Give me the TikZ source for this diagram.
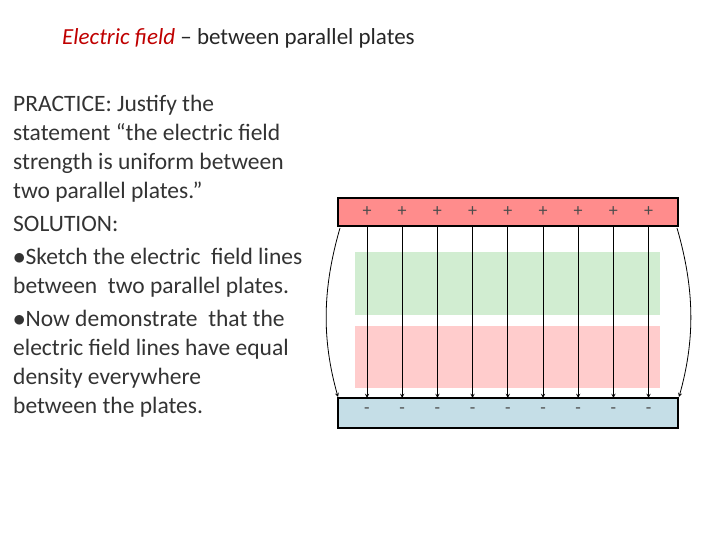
\documentclass[tikz,border=0pt]{standalone}
\usepackage{fontspec}
\setmainfont{Carlito}
\begin{document}
\begin{tikzpicture}[x=1pt,y=-1pt,
  body/.style={anchor=north west,align=left,font=\fontsize{23.5}{29}\selectfont,text=black!80,inner sep=0},
  fl/.style={-stealth,line width=0.9pt},
  sgn/.style={font=\fontsize{18}{18}\selectfont,text=black!70}]
\useasboundingbox (0,0) rectangle (720,540);
\node[anchor=west,font=\fontsize{23}{26}\selectfont,inner sep=0,text=black!85] (title) at (62,38) {\textcolor{red!75!black}{\textit{Electric field}} -- between parallel plates};
\node[body] (txt) at (13,95) {PRACTICE: Justify the\\statement “the electric field\\strength is uniform between\\two parallel plates.”\\[4pt]SOLUTION:\\[4pt]$\bullet$Sketch the electric\ \ field lines\\between\ \ two parallel plates.\\[4pt]$\bullet$Now demonstrate\ \ that the\\electric field lines have equal\\density everywhere\\between the plates.};
\fill[green!45!gray!25] (355,252) rectangle (660,315);
\fill[red!20] (355,326) rectangle (660,388);
\draw[line width=2pt,fill=red!45] (338,198) rectangle (678,226);
\draw[line width=2pt,fill=cyan!45!gray!35] (338,398) rectangle (678,428);
\foreach \i in {0,...,8}{
  \pgfmathsetmacro\xx{367+35.2*\i}
  \node[sgn] (p\i) at (\xx,212) {+};
  \node[sgn] (m\i) at (\xx,411) {-};
  \coordinate (a\i) at (\xx,226);
  \coordinate (b\i) at (\xx,398);
  \draw[fl] (a\i) -- (b\i);
}
\coordinate (la) at (340,228); \coordinate (lb) at (338,397);
\coordinate (ra) at (677,228); \coordinate (rb) at (679,397);
\draw[-stealth,line width=0.8pt] (la) .. controls (322,290) and (322,340) .. (lb);
\draw[-stealth,line width=0.8pt] (ra) .. controls (695,290) and (695,340) .. (rb);
\end{tikzpicture}
\end{document}
